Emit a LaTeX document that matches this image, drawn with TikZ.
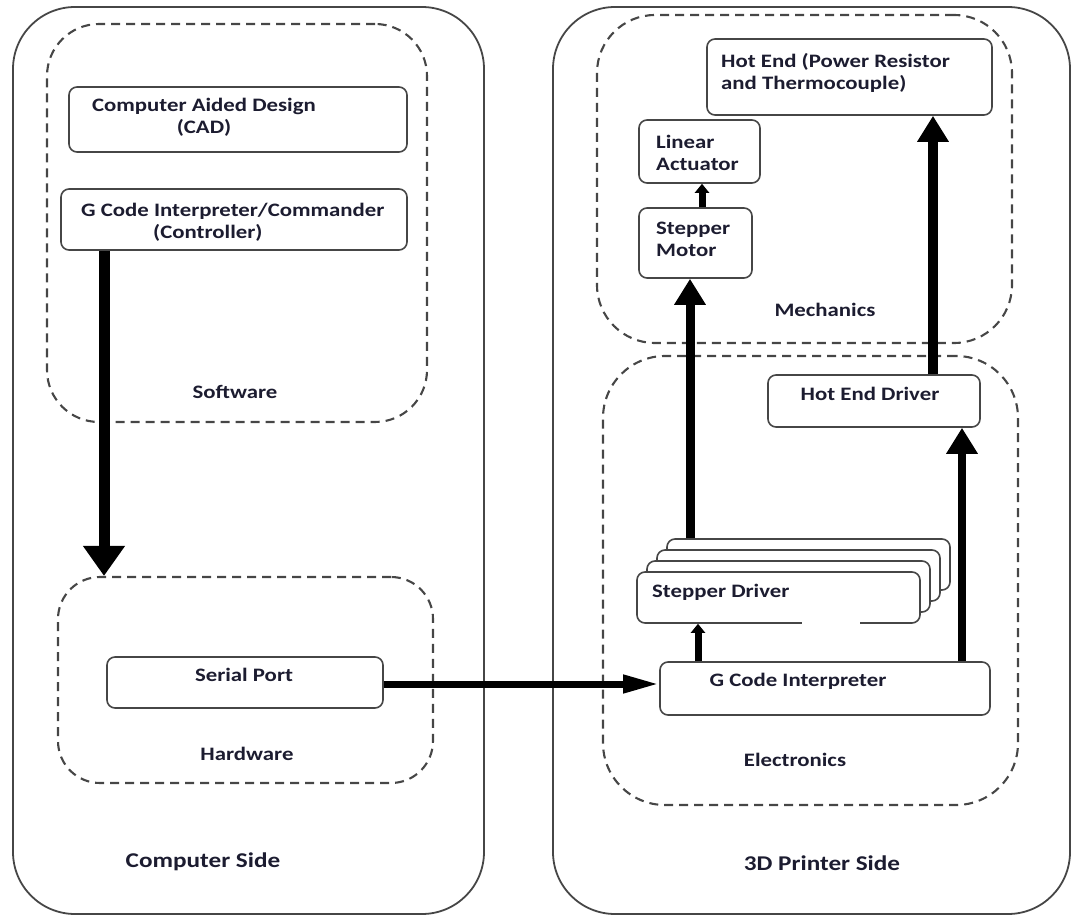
\documentclass[tikz,border=0pt]{standalone}
\usepackage{fontspec}
\newfontfamily\lblfont{Carlito}[FakeStretch=1.2]
\usetikzlibrary{arrows.meta,calc}
\definecolor{txt}{RGB}{28,28,48}
\definecolor{edge}{RGB}{70,70,70}
\tikzset{
  side/.style={draw=edge, line width=1.8pt, rounded corners=62pt, inner sep=0},
  grp/.style={draw=edge, line width=2.1pt, dash pattern=on 9pt off 6pt, inner sep=0},
  blk/.style={draw=edge, line width=1.6pt, rounded corners=8pt, fill=white, inner sep=0},
  lbl/.style={font=\lblfont\bfseries\fontsize{19}{22}\selectfont, text=txt, inner sep=0},
  biglbl/.style={font=\lblfont\bfseries\fontsize{21}{24}\selectfont, text=txt, inner sep=0},
  arrA/.style={line width=11pt, -{Triangle[length=30pt,width=40pt]}},
  arrB/.style={line width=9pt, -{Triangle[length=26pt,width=30pt]}},
  arrC/.style={line width=7pt, -{Triangle[length=9pt,width=14pt]}},
  arrS/.style={line width=7pt, -{Triangle[length=36pt,width=17pt]}},
}
\begin{document}
\begin{tikzpicture}[x=1pt,y=-1pt]
\useasboundingbox (0,0) rectangle (1072,917);
% sides
\node[side, minimum width=471pt, minimum height=907pt] (cside) at (248.5,460.5) {};
\node[side, minimum width=517pt, minimum height=907pt] (pside) at (811.5,460.5) {};
% dashed groups
\node[grp, rounded corners=52pt, minimum width=380pt, minimum height=398pt] (sw) at (237,223) {};
\node[grp, rounded corners=42pt, minimum width=375pt, minimum height=206pt] (hw) at (245.5,680) {};
\node[grp, rounded corners=58pt, minimum width=415pt, minimum height=328pt] (mech) at (804.5,179) {};
\node[grp, rounded corners=62pt, minimum width=415pt, minimum height=449pt] (elec) at (810.5,580.5) {};
% blocks
\node[blk, minimum width=338pt, minimum height=65pt] (cad) at (238,119.5) {};
\node[blk, minimum width=346pt, minimum height=61pt] (gcc) at (234,219.5) {};
\node[blk, minimum width=276pt, minimum height=51pt] (sp) at (245,682.5) {};
\node[blk, minimum width=285pt, minimum height=76pt] (he) at (849.5,77) {};
\node[blk, minimum width=121pt, minimum height=63pt] (la) at (699.5,151.5) {};
\node[blk, minimum width=113pt, minimum height=70pt] (sm) at (695.5,243) {};
\node[blk, minimum width=212pt, minimum height=52pt] (hed) at (874,401) {};
\node[blk, minimum width=283pt, minimum height=51pt] (sd4) at (808.5,564.5) {};
\node[blk, minimum width=283pt, minimum height=51pt] (sd3) at (798.5,575.5) {};
\node[blk, minimum width=283pt, minimum height=51pt] (sd2) at (788.5,586.5) {};
\node[blk, minimum width=283pt, minimum height=51pt] (sd1) at (778.5,597.5) {};
\node[fill=white, inner sep=0, minimum width=58pt, minimum height=14pt] (patch) at (831,621) {};
\node[blk, minimum width=330pt, minimum height=53pt] (gci) at (825,688.5) {};
% texts
\node[lbl, align=center] (tcad) at (204,117) {Computer Aided Design\\(CAD)};
\node[lbl, align=left, anchor=west] (tgcc) at (81,222) {G Code Interpreter/Commander\\\hspace*{72pt}(Controller)};
\node[lbl] (tsw) at (235,392) {Software};
\node[lbl] (tsp) at (244,675) {Serial Port};
\node[lbl] (thw) at (247,754) {Hardware};
\node[biglbl] (tcs) at (203,862) {Computer Side};
\node[lbl, align=left, anchor=west] (the) at (721,73) {Hot End (Power Resistor\\and Thermocouple)};
\node[lbl, align=left, anchor=west] (tla) at (656,153) {Linear\\Actuator};
\node[lbl, align=left, anchor=west] (tsm) at (656,239) {Stepper\\Motor};
\node[lbl] (tmech) at (825,310) {Mechanics};
\node[lbl] (thed) at (870,394) {Hot End Driver};
\node[lbl, anchor=west] (tsd) at (652,592) {Stepper Driver};
\node[lbl] (tgci) at (798,681) {G Code Interpreter};
\node[lbl] (telec) at (795,760) {Electronics};
\node[biglbl] (tps) at (822,863) {3D Printer Side};
% connector x positions
\coordinate (xa) at (104,0);
\coordinate (xb) at (690,0);
\coordinate (xc) at (702,0);
\coordinate (xd) at (698,0);
\coordinate (xe) at (962,0);
\coordinate (xf) at (933,0);
\coordinate (ys) at (0,684);
% connectors
\draw[arrA] (gcc.south -| xa) -- (hw.north -| xa);
\draw[arrS] (sp.east |- ys) -- (gci.west |- ys);
\draw[arrB] (sd4.north -| xb) -- (sm.south -| xb);
\draw[arrC] (sm.north -| xc) -- (la.south -| xc);
\draw[arrC] (gci.north -| xd) -- (sd1.south -| xd);
\draw[arrB, line width=8pt] (gci.north -| xe) -- (hed.south -| xe);
\draw[arrB, line width=10pt] (hed.north -| xf) -- (he.south -| xf);
\end{tikzpicture}
\end{document}
